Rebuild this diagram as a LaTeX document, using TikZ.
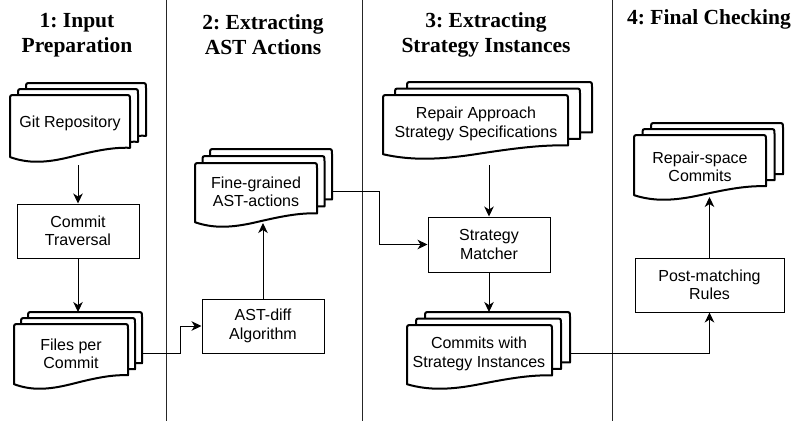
\documentclass[tikz,border=0pt]{standalone}
\usepackage{fontspec}
\setmainfont{Liberation Sans}
\newfontfamily\headfont{Liberation Serif}
\usetikzlibrary{arrows.meta,calc}
\frenchspacing

\tikzset{
  docline/.style={line width=2pt, draw=black, fill=white, line join=round},
  doctext/.style={font=\fontsize{16}{18.5}\selectfont, align=center, inner sep=0pt},
  head/.style={font=\headfont\bfseries\fontsize{21.5}{25}\selectfont\frenchspacing, align=center, inner sep=0pt},
  procbox/.style={draw=black, line width=1pt, fill=white, minimum width=122pt, minimum height=54pt,
                  inner sep=0pt, align=center, font=\fontsize{16}{18.5}\selectfont},
  conn/.style={line width=1pt, draw=black, -{Stealth[length=10pt,width=9.5pt,inset=3pt]}},
  sepline/.style={line width=1pt, draw=black!85}
}

\newcommand\onedoc[4]{%
  \pgfmathsetmacro\mdX{#1}\pgfmathsetmacro\mdY{#2}%
  \pgfmathsetmacro\mdW{#3}\pgfmathsetmacro\mdH{#4}%
  \filldraw[docline] (\mdX,\mdY+0.94*\mdH) -- (\mdX,\mdY+5)
    .. controls (\mdX,\mdY) .. (\mdX+5,\mdY)
    -- (\mdX+\mdW-5,\mdY) .. controls (\mdX+\mdW,\mdY) .. (\mdX+\mdW,\mdY+5)
    -- (\mdX+\mdW,\mdY+0.8*\mdH)
    .. controls (\mdX+0.85*\mdW,\mdY+0.79*\mdH) and (\mdX+0.7*\mdW,\mdY+0.85*\mdH) .. (\mdX+0.5*\mdW,\mdY+0.94*\mdH)
    .. controls (\mdX+0.3*\mdW,\mdY+1.03*\mdH) and (\mdX+0.15*\mdW,\mdY+1.04*\mdH) .. (\mdX,\mdY+0.94*\mdH)
    -- cycle;%
}

% name, x, y, w, h, dx, dy, extra bottom
\newcommand\multidoc[8]{%
  \onedoc{#2+2*#6}{#3-2*#7}{#4}{#5}%
  \onedoc{#2+#6}{#3-#7}{#4}{#5}%
  \onedoc{#2}{#3}{#4}{#5}%
  \pgfmathsetmacro\mbW{#4+2*#6}\pgfmathsetmacro\mbH{#5+2*#7+#8}%
  \pgfmathsetmacro\mbX{#2}\pgfmathsetmacro\mbY{#3-2*#7}%
  \node[inner sep=0pt, outer sep=0pt, minimum width=\mbW pt, minimum height=\mbH pt, anchor=north west] (#1) at (\mbX,\mbY) {};%
}

\begin{document}
\begin{tikzpicture}[x=1pt,y=-1pt]
\useasboundingbox[fill=white] (0,0) rectangle (794,421);

% separators
\draw[sepline] (166,0) -- (166,421);
\draw[sepline] (362,0) -- (362,421);
\draw[sepline] (612,0) -- (612,421);

% headings
\node[head] (h1) at (77,35) {1: Input\\Preparation};
\node[head] (h2) at (263,35) {2: Extracting\\AST Actions};
\node[head] (h3) at (486,35) {3: Extracting\\Strategy Instances};
\node[head, anchor=base] (h4) at (709,24) {4: Final Checking};

% documents
\multidoc{git}{10}{95}{120}{66}{8}{6}{4}
\node[doctext] (git-t) at (70,123) {Git Repository};

\multidoc{files}{14}{324}{114}{64}{7}{6}{6}
\node[doctext] (files-t) at (71,354) {Files per\\Commit};

\multidoc{fine}{195}{163}{122}{63}{7.5}{7}{-3}
\node[doctext] (fine-t) at (256,192) {Fine-grained\\AST-actions};

\multidoc{repair}{383}{95}{185}{63}{12}{6.5}{7}
\node[doctext] (repair-t) at (476,124) {Repair Approach\\Strategy Specifications};

\multidoc{csi}{407}{325}{145}{63}{9}{6.5}{6}
\node[doctext] (csi-t) at (479,354) {Commits with\\Strategy Instances};

\multidoc{rs}{634}{135}{132}{64}{8.5}{6}{-2}
\node[doctext] (rs-t) at (700,167) {Repair-space\\Commits};

% process boxes
\node[procbox] (commit) at (78,231) {Commit\\Traversal};
\node[procbox] (ast) at (263,326) {AST-diff\\Algorithm};
\node[procbox, minimum height=55pt] (matcher) at (489,244.5) {Strategy\\Matcher};
\node[procbox, minimum width=149pt] (post) at (709.5,285) {Post-matching\\Rules};

% connectors
\draw[conn] (git.south) -- (commit.north);
\draw[conn] (commit.south) -- (files.north);
\draw[conn] (files.east) -- ++(38,0) |- (ast.west);
\draw[conn] (ast.north) -- (ast.north |- fine.south);
\draw[conn] ([yshift=-5pt]fine.east) -- ++(47,0) |- (matcher.west);
\draw[conn] (matcher.north |- repair.south) -- (matcher.north);
\draw[conn] (matcher.south) -- (matcher.south |- csi.north);
\draw[conn] (csi.east) -| (post.south);
\draw[conn] (post.north) -- (post.north |- rs.south);
\end{tikzpicture}
\end{document}
